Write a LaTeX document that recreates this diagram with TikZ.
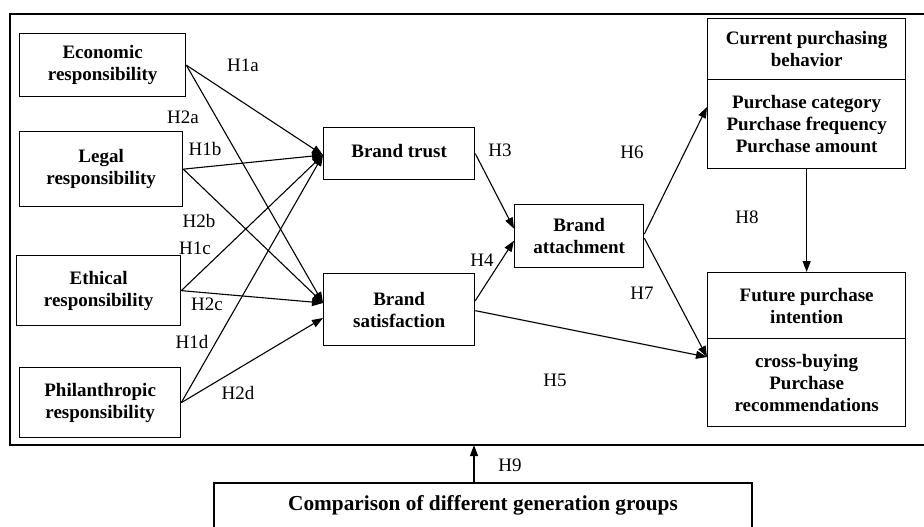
\documentclass[tikz,border=0pt]{standalone}
\usepackage{fontspec}
\setmainfont{Liberation Serif}
\usetikzlibrary{arrows.meta}
\begin{document}
\begin{tikzpicture}[x=1pt,y=-1pt,
  box/.style={draw, line width=1.3pt, inner sep=0pt, font=\fontsize{19}{22}\selectfont\bfseries, align=center, anchor=north west},
  lab/.style={font=\fontsize{19}{22}\selectfont, inner sep=0pt},
  arr/.style={line width=1.1pt, -{Triangle[length=11pt,width=8pt]}}]
\useasboundingbox (0,0) rectangle (924,527);
\fill[white] (0,0) rectangle (924,527);
% outer frame
\draw[line width=1.2pt] (10,14) rectangle (935,445);
% left boxes
\node[box, minimum width=166pt, minimum height=63pt] (eco) at (19,33) {Economic\\responsibility};
\node[box, minimum width=163pt, minimum height=75pt] (leg) at (19,131) {Legal\\responsibility};
\node[box, minimum width=164pt, minimum height=70pt] (eth) at (16,255) {Ethical\\responsibility};
\node[box, minimum width=161pt, minimum height=70pt] (phi) at (19,367) {Philanthropic\\responsibility};
% middle
\node[box, minimum width=151pt, minimum height=52pt] (trust) at (323,127) {\raisebox{6pt}{Brand trust}};
\node[box, minimum width=151pt, minimum height=72pt] (sat) at (323,273) {Brand\\satisfaction};
\node[box, minimum width=129pt, minimum height=63pt] (att) at (514,204) {Brand\\attachment};
% right
\node[box, minimum width=198pt, minimum height=61pt] (cur1) at (707,18) {Current purchasing\\behavior};
\node[box, minimum width=198pt, minimum height=89pt] (cur2) at (707,79) {Purchase category\\Purchase frequency\\Purchase amount};
\node[box, minimum width=198pt, minimum height=66pt] (fut1) at (707,272) {Future purchase\\intention};
\node[box, minimum width=198pt, minimum height=88pt] (fut2) at (707,338) {cross-buying\\Purchase\\recommendations};
% bottom
\draw[line width=1.3pt] (214,545) -- (214,483) -- (752,483) -- (752,545);
\node[font=\fontsize{21.3}{25}\selectfont\bfseries, inner sep=0pt] (cmp) at (483,505) {Comparison of different generation groups};
\coordinate (cmptop) at (474,483);
\coordinate (frame) at (474,445);
% convergence points
\coordinate (tin) at (323,155);
\coordinate (sin) at (323,303);
\coordinate (sin2) at (323,318);
% arrows H1/H2
\draw[arr] (eco.east) -- (tin);
\draw[arr] (eco.east) -- (sin);
\draw[arr] (leg.east) -- (tin);
\draw[arr] (leg.east) -- (sin);
\draw[arr] (eth.east) -- (tin);
\draw[arr] (eth.east) -- (sin);
\draw[arr] (phi.east) -- (tin);
\draw[arr] (phi.east) -- (sin2);
% H3 H4
\draw[arr] (trust.east) -- ([yshift=7.5pt]att.west);
\draw[arr] ([yshift=9pt]sat.east) -- ([yshift=-4.5pt]att.west);
% H5
\draw[arr] ([yshift=-1pt]sat.east) -- ([yshift=-19pt]fut2.north west);
% H6 H7
\draw[arr] ([yshift=2pt]att.east) -- ([yshift=-28pt]cur2.north west);
\draw[arr] ([yshift=-2pt]att.east) -- ([yshift=-19pt]fut2.north west);
% H8
\draw[arr] (cur2.south) -- (fut1.north);
% H9
\draw[arr] (cmptop) -- (frame);
% labels
\node[lab] at (243,65) {H1a};
\node[lab] at (183,117) {H2a};
\node[lab] at (205,149) {H1b};
\node[lab] at (199,221) {H2b};
\node[lab] at (195,248) {H1c};
\node[lab] at (207,304) {H2c};
\node[lab] at (192,342) {H1d};
\node[lab] at (238,393) {H2d};
\node[lab] at (500,150) {H3};
\node[lab] at (482,260) {H4};
\node[lab] at (555,380) {H5};
\node[lab] at (632,152) {H6};
\node[lab] at (642,293) {H7};
\node[lab] at (747,217) {H8};
\node[lab] at (510,465) {H9};
\end{tikzpicture}
\end{document}
